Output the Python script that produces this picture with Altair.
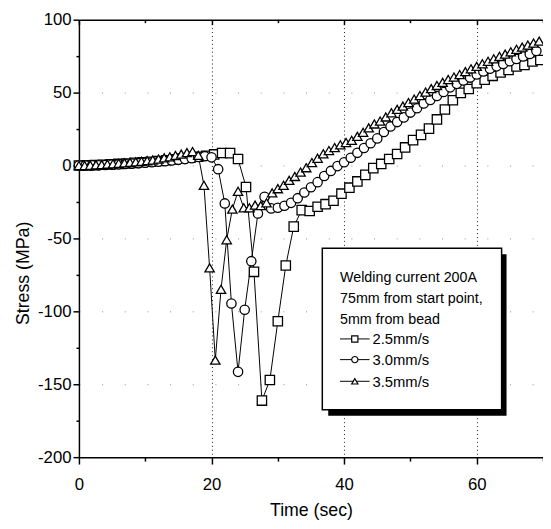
import altair as alt
import pandas as pd

# ---------------- data ----------------
SERIES = ["2.5mm/s", "3.0mm/s", "3.5mm/s"]

sq_t = [0.0, 1.2, 2.4, 3.6, 4.8, 6.0, 7.2, 8.4, 9.6, 10.8, 12.0, 13.2, 14.4, 15.6, 16.8,
        18.0, 19.2, 20.4, 21.6, 22.8, 24.0, 25.2, 26.4, 27.6, 28.8, 30.0, 31.2, 32.4, 33.6,
        34.8, 36.0, 37.2, 38.4, 39.6, 40.8, 42.0, 43.2, 44.4, 45.6, 46.8, 48.0, 49.2, 50.4,
        51.6, 52.8, 54.0, 55.2, 56.4, 57.6, 58.8, 60.0, 61.2, 62.4, 63.6, 64.8, 66.0, 67.2,
        68.4, 69.6]
sq_y = [0.0, 0.1, 0.3, 0.5, 0.8, 1.1, 1.4, 1.8, 2.2, 2.6, 3.1, 3.6, 4.2, 4.8, 5.4,
        6.0, 6.7, 7.6, 8.6, 8.5, 4.5, -14.7, -72.9, -161.2, -147.1, -106.8, -68.6, -41.9, -30.6,
        -31.2, -28.3, -26.5, -24.2, -19.3, -15.2, -10.9, -6.4, -1.8, 1.1, 4.5, 7.9, 12.4, 17.4,
        21.0, 25.3, 31.6, 38.4, 44.8, 49.8, 52.5, 56.5, 58.8, 61.5, 63.8, 65.6, 67.9, 69.0,
        71.3, 72.4]

ci_t = [0, 1, 2, 3, 4, 5, 6, 7, 8, 9, 10, 11, 12, 13, 14, 15, 16, 17, 18, 19, 20, 21, 22,
        23, 24, 25, 26, 27, 28, 29, 30, 31, 32, 33, 34, 35, 36, 37, 38, 39, 40, 41, 42, 43,
        44, 45, 46, 47, 48, 49, 50, 51, 52, 53, 54, 55, 56, 57, 58, 59, 60, 61, 62, 63, 64,
        65, 66, 67, 68, 69]
ci_y = [0.0, 0.0, 0.1, 0.2, 0.4, 0.6, 0.8, 1.0, 1.3, 1.6, 1.9, 2.2, 2.6, 3.0, 3.4, 3.9,
        4.4, 5.0, 5.8, 6.4, 5.6, -2.5, -26.0, -94.6, -141.5, -98.9, -65.6, -32.9, -21.5,
        -29.4, -29.0, -27.6, -25.6, -22.4, -18.5, -14.9, -11.4, -7.2, -3.7, -0.4, 2.2, 5.3,
        8.7, 12.0, 15.3, 18.6, 23.0, 26.8, 29.8, 33.0, 36.3, 39.3, 42.6, 45.0, 47.7, 50.4,
        53.6, 56.0, 58.3, 60.3, 62.5, 64.5, 66.4, 68.0, 69.7, 71.5, 73.1, 74.8, 76.5, 78.5]

tr_t = [0.0, 0.86, 1.71, 2.57, 3.43, 4.29, 5.14, 6.0, 6.86, 7.71, 8.57, 9.43, 10.29, 11.14,
        12.0, 12.86, 13.71, 14.57, 15.43, 16.29, 17.14, 18.0, 18.86, 19.71, 20.57, 21.43,
        22.29, 23.14, 24.0, 24.86, 25.71, 26.57, 27.43, 28.29, 29.14, 30.0, 30.86, 31.71,
        32.57, 33.43, 34.29, 35.14, 36.0, 36.86, 37.71, 38.57, 39.43, 40.29, 41.14, 42.0,
        42.86, 43.71, 44.57, 45.43, 46.29, 47.14, 48.0, 48.86, 49.71, 50.57, 51.43, 52.29,
        53.14, 54.0, 54.86, 55.71, 56.57, 57.43, 58.29, 59.14, 60.0, 60.86, 61.71, 62.57,
        63.43, 64.29, 65.14, 66.0, 66.86, 67.71, 68.57, 69.43]
tr_y = [0.0, 0.0, 0.2, 0.4, 0.6, 0.9, 1.2, 1.5, 1.8, 2.1, 2.5, 2.9, 3.3, 3.8, 4.4, 5.2,
        6.0, 6.9, 7.8, 8.8, 9.6, 7.0, -13.6, -70.2, -133.5, -84.9, -50.9, -29.9, -17.7,
        -29.0, -29.0, -27.2, -27.5, -25.6, -18.8, -15.9, -13.6, -10.2, -7.5, -4.5, -1.5,
        2.0, 5.0, 8.0, 10.3, 12.3, 14.2, 15.8, 17.3, 20.0, 22.8, 25.8, 28.5, 30.5, 33.3,
        36.2, 38.5, 40.7, 43.2, 45.6, 48.0, 50.4, 52.7, 54.9, 57.0, 59.0, 60.7, 62.4, 64.4,
        66.3, 68.0, 69.8, 71.5, 73.2, 74.8, 76.4, 78.0, 79.7, 81.2, 82.6, 84.0, 85.3]

LEGEND_TITLE = ["Welding current 200A", "75mm from start point,", "5mm from bead"]
X_TICKS = [0, 10, 20, 30, 40, 50, 60, 70]
Y_TICKS = [-200, -175, -150, -125, -100, -75, -50, -25, 0, 25, 50, 75, 100]

rows = []
for name, ts, ys in [(SERIES[0], sq_t, sq_y), (SERIES[1], ci_t, ci_y), (SERIES[2], tr_t, tr_y)]:
    for t, y in zip(ts, ys):
        rows.append({"series": name, "t": t, "s": y})
df = pd.DataFrame(rows)

# ---------------- style ----------------
FONT = "Liberation Sans, Arial, sans-serif"
W, H = 471, 444
SHAPES = ["square", "circle", "triangle-up"]

x_scale = alt.Scale(domain=[0, 70], nice=False, zero=False)
y_scale = alt.Scale(domain=[-200, 100], nice=False, zero=False)

x_axis_bottom = alt.Axis(
    values=X_TICKS,
    labelExpr="datum.value % 20 === 0 ? '' + datum.value : ''",
    labelOverlap=False, labelFlush=False,
    tickSize={"condition": {"test": "datum.value % 20 === 0", "value": 7}, "value": 4},
    tickWidth=1.5, tickColor="black",
    domainColor="black", domainWidth=1.5,
    grid=True, gridColor="black", gridDash=[1, 3], gridWidth=1,
    gridOpacity={"condition": {"test": "datum.value % 20 === 0 && datum.value > 0", "value": 0.9}, "value": 0},
    labelFont=FONT, labelFontSize=17, labelColor="black", labelPadding=13,
    title="Time (sec)", titleFont=FONT, titleFontSize=18, titleFontWeight="normal",
    titleColor="black", titleY=54, titleBaseline="middle",
)
x_axis_top = alt.Axis(
    orient="bottom", offset=-H, values=X_TICKS, labels=False, title="",
    tickSize={"condition": {"test": "datum.value % 20 === 0", "value": 5}, "value": 3},
    tickWidth=1.5, tickColor="black", domainColor="black", domainWidth=1.5, grid=False,
)
y_axis = alt.Axis(
    values=Y_TICKS,
    labelExpr="datum.value % 50 === 0 ? '' + datum.value : ''",
    labelOverlap=False, labelFlush=False,
    tickSize={"condition": {"test": "datum.value % 50 === 0", "value": 6}, "value": 3},
    tickWidth=1.5, tickColor="black",
    domainColor="black", domainWidth=1.5,
    grid=True, gridColor="#777", gridDash=[1, 22], gridWidth=1,
    gridOpacity={"condition": {"test": "datum.value % 50 === 0 && datum.value > -200 && datum.value < 100", "value": 0.8}, "value": 0},
    labelFont=FONT, labelFontSize=17, labelColor="black", labelPadding=2,
    title="Stress (MPa)", titleFont=FONT, titleFontSize=18, titleFontWeight="normal",
    titleColor="black", titleX=-56, titleY=257, titleAngle=270,
    titleAlign="center", titleBaseline="middle",
)

base = alt.Chart(df)
lines = base.mark_line(color="black", strokeWidth=1).encode(
    x=alt.X("t:Q", scale=x_scale, axis=x_axis_bottom),
    y=alt.Y("s:Q", scale=y_scale, axis=y_axis),
    detail="series:N",
)
points = base.mark_point(filled=True, fill="white", stroke="black", strokeWidth=1.3,
                         size=90, opacity=1).encode(
    x=alt.X("t:Q", scale=x_scale, axis=x_axis_top),
    y=alt.Y("s:Q", scale=y_scale, axis=y_axis),
    shape=alt.Shape("series:N", scale=alt.Scale(domain=SERIES, range=SHAPES), legend=None),
)

# ---------------- legend box (drawn manually) ----------------
one = pd.DataFrame({"k": [0]})
legend_layers = []
legend_layers.append(alt.Chart(one).mark_rect(fill="black").encode(
    x=alt.value(253), x2=alt.value(434), y=alt.value(238), y2=alt.value(402)))
legend_layers.append(alt.Chart(one).mark_rect(fill="white", stroke="black", strokeWidth=1.5).encode(
    x=alt.value(247), x2=alt.value(429), y=alt.value(232), y2=alt.value(396)))
title_y = [266, 288, 309]
for txt, yy in zip(LEGEND_TITLE, title_y):
    legend_layers.append(alt.Chart(one).mark_text(
        align="left", baseline="alphabetic", font=FONT, fontSize=14.5, color="black").encode(
        x=alt.value(265), y=alt.value(yy), text=alt.value(txt)))
item_y = [324, 345, 367]
for name, shp, yy in zip(SERIES, SHAPES, item_y):
    legend_layers.append(alt.Chart(one).mark_rule(color="black", strokeWidth=1).encode(
        x=alt.value(265), x2=alt.value(295), y=alt.value(yy)))
    legend_layers.append(alt.Chart(one).mark_point(
        shape=shp, size=40, filled=True, fill="white", stroke="black", strokeWidth=1.2, opacity=1).encode(
        x=alt.value(280), y=alt.value(yy)))
    legend_layers.append(alt.Chart(one).mark_text(
        align="left", baseline="alphabetic", font=FONT, fontSize=15, color="black").encode(
        x=alt.value(298), y=alt.value(yy + 5.5), text=alt.value(name)))

chart = alt.layer(lines, points, *legend_layers).resolve_axis(x="independent").properties(
    width=W, height=H,
    autosize=alt.AutoSizeParams(type="none"),
    padding={"left": 72, "top": 8, "right": 0, "bottom": 66},
    background="white",
).configure_view(strokeWidth=0)

chart.save("out.html", embed_options={"renderer": "svg", "actions": False})
